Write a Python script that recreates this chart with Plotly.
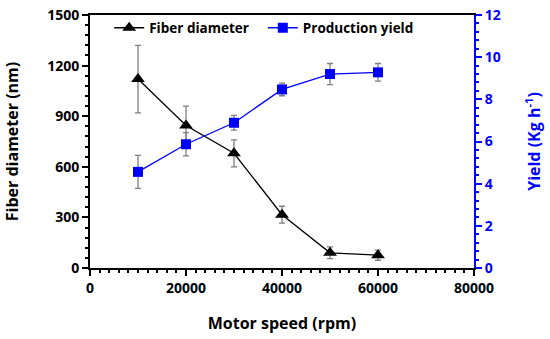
import plotly.graph_objects as go

speed = [10000, 20000, 30000, 40000, 50000, 60000]
diameter = [1120, 845, 680, 316, 90, 76]
diameter_err = [200, 115, 80, 50, 35, 30]
yield_kg = [4.56, 5.87, 6.89, 8.47, 9.2, 9.28]
yield_err = [0.78, 0.55, 0.35, 0.3, 0.5, 0.42]

FONT = "Open Sans"
BLUE = "#0000FF"

fig = go.Figure()
fig.add_trace(go.Scatter(
    x=speed, y=diameter, name="Fiber diameter", mode="lines+markers",
    line=dict(color="black", width=1.3),
    marker=dict(symbol="triangle-up", size=12, color="black"),
    error_y=dict(type="data", array=diameter_err, color="#7f7f7f", thickness=1.3, width=3),
    legend="legend",
))
fig.add_trace(go.Scatter(
    x=speed, y=yield_kg, name="Production yield", mode="lines+markers", yaxis="y2",
    line=dict(color=BLUE, width=1.3),
    marker=dict(symbol="square", size=10, color=BLUE),
    error_y=dict(type="data", array=yield_err, color="#7f7f7f", thickness=1.3, width=3),
    legend="legend2",
))

TICKSZ = 14
TITLESZ = 16
LEGFONT = dict(family=FONT, size=13.5, color="black", weight="bold")
fig.update_layout(
    width=550, height=339,
    margin=dict(l=90, r=76, t=12, b=71),
    paper_bgcolor="white", plot_bgcolor="white",
    font=dict(family=FONT, size=14, color="black"),
    showlegend=True,
    legend=dict(x=0.05, y=1.01, xanchor="left", yanchor="top", font=LEGFONT,
                bgcolor="rgba(0,0,0,0)", itemwidth=30),
    legend2=dict(x=0.45, y=1.01, xanchor="left", yanchor="top", font=LEGFONT,
                 bgcolor="rgba(0,0,0,0)", itemwidth=30),
    xaxis=dict(range=[0, 80000], dtick=20000, tickformat="d", showgrid=False, zeroline=False,
               automargin=False, ticklabeloverflow="allow",
               showline=True, linecolor="black", linewidth=2, mirror=True,
               ticks="outside", ticklen=6, tickwidth=2, tickcolor="black",
               tickfont=dict(family=FONT, size=TICKSZ, weight="bold"),
               minor=dict(dtick=2000, ticks="outside", ticklen=3, tickwidth=1.5, tickcolor="black"),
               title=dict(text="Motor speed (rpm)", font=dict(family=FONT, size=TITLESZ, weight="bold"), standoff=22)),
    yaxis=dict(range=[0, 1500], dtick=300, showgrid=False, zeroline=False,
               automargin=False, ticklabeloverflow="allow",
               showline=True, linecolor="black", linewidth=2,
               ticks="outside", ticklen=6, tickwidth=2, tickcolor="black",
               tickfont=dict(family=FONT, size=TICKSZ, weight="bold"),
               minor=dict(dtick=60, ticks="outside", ticklen=3, tickwidth=1.5, tickcolor="black"),
               title=dict(text="Fiber diameter (nm)", font=dict(family=FONT, size=TITLESZ, weight="bold"), standoff=25)),
    yaxis2=dict(range=[0, 12], dtick=2, overlaying="y", side="right", showgrid=False, zeroline=False,
                automargin=False, ticklabeloverflow="allow",
                showline=True, linecolor=BLUE, linewidth=2,
                ticks="outside", ticklen=6, tickwidth=2, tickcolor=BLUE,
                tickfont=dict(family=FONT, size=TICKSZ, color=BLUE, weight="bold"),
                minor=dict(dtick=0.4, ticks="outside", ticklen=3, tickwidth=1.5, tickcolor=BLUE),
                title=dict(text="Yield (Kg h<sup>-1</sup>)", font=dict(family=FONT, size=TITLESZ, color=BLUE, weight="bold"), standoff=29)),
)

fig.write_html("out.html", config={"displayModeBar": False},
               post_script="document.body.style.margin='0';")
